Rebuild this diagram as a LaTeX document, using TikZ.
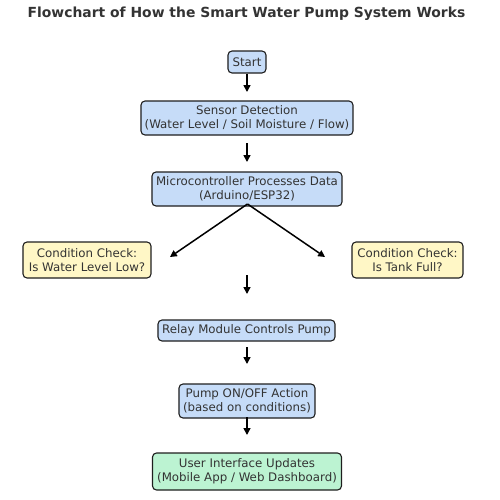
\documentclass[tikz,border=0pt]{standalone}
\usepackage{fontspec}
\setmainfont{DejaVu Sans}
\usetikzlibrary{arrows.meta}
\definecolor{txt}{HTML}{333333}
\definecolor{edgec}{HTML}{1E1E1E}
\definecolor{bluef}{HTML}{C6DCF8}
\definecolor{yellowf}{HTML}{FFF7C6}
\definecolor{greenf}{HTML}{BCF3D2}
\begin{document}
\begin{tikzpicture}[x=0.5pt,y=-0.5pt,
  box/.style={draw=edgec,line width=0.55pt,rounded corners=2pt,align=center,
    text=txt,inner sep=0pt,font=\fontsize{5.9pt}{6.8pt}\selectfont},
  bluebox/.style={box,fill=bluef},
  yellowbox/.style={box,fill=yellowf},
  greenbox/.style={box,fill=greenf},
  flow/.style={draw=black,line width=0.75pt,-{Triangle[length=3.4pt,width=3.4pt]}}]
\useasboundingbox (0,0) rectangle (500,500);
\node[text=txt,font=\bfseries\fontsize{6.95pt}{8pt}\selectfont] (title) at (246.5,14) {Flowchart of How the Smart Water Pump System Works};
\node[bluebox,minimum width=19pt,minimum height=11pt] (start) at (247,62) {Start};
\node[bluebox,minimum width=106pt,minimum height=17pt] (sensor) at (247,118) {Sensor Detection\\(Water Level / Soil Moisture / Flow)};
\node[bluebox,minimum width=95pt,minimum height=17pt] (micro) at (247,189) {Microcontroller Processes Data\\(Arduino/ESP32)};
\node[yellowbox,minimum width=64pt,minimum height=18pt] (low) at (87,260) {Condition Check:\\Is Water Level Low?};
\node[yellowbox,minimum width=55.5pt,minimum height=18pt] (full) at (407.5,260) {Condition Check:\\Is Tank Full?};
\node[bluebox,minimum width=88.5pt,minimum height=10.5pt] (relay) at (246.5,330.5) {Relay Module Controls Pump};
\node[bluebox,minimum width=68pt,minimum height=17pt] (pump) at (247,401) {Pump ON/OFF Action\\(based on conditions)};
\node[greenbox,minimum width=94.5pt,minimum height=18.5pt] (ui) at (247,471.5) {User Interface Updates\\(Mobile App / Web Dashboard)};
\coordinate (e1) at (247,92);
\coordinate (s2) at (247,143);
\coordinate (e2) at (247,162);
\coordinate (s3) at (247.5,204);
\coordinate (e3l) at (170,257);
\coordinate (e3r) at (325,257);
\coordinate (s4) at (247,275);
\coordinate (e4) at (247,294);
\coordinate (s5) at (247,347);
\coordinate (e5) at (247,364);
\coordinate (s6) at (247,417);
\coordinate (e6) at (247,435);
\draw[flow] (start.south) -- (e1);
\draw[flow] (s2) -- (e2);
\draw[flow] (s3) -- (e3l);
\draw[flow] (s3) -- (e3r);
\draw[flow] (s4) -- (e4);
\draw[flow] (s5) -- (e5);
\draw[flow] (s6) -- (e6);
\end{tikzpicture}
\end{document}
